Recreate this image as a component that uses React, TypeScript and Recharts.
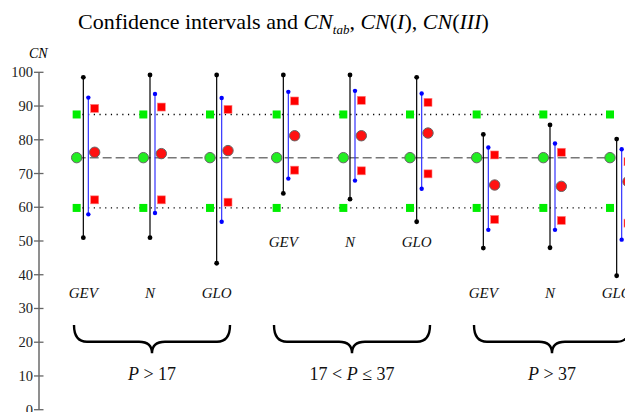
import { ComposedChart, Line, Scatter, XAxis, YAxis, ReferenceArea } from "recharts";

// one column per fitted distribution, three regimes of P
const distributions = ["GEV", "N", "GLO", "GEV", "N", "GLO", "GEV", "N", "GLO"];
const labelLevel = [34.5, 34.5, 34.5, 49.8, 49.8, 49.8, 34.5, 34.5, 34.5];

// tabulated CN and the CN(I) / CN(III) conversions
const cnTab = [74.7, 74.7, 74.7, 74.7, 74.7, 74.7, 74.7, 74.7, 74.7];
const cnI = [59.8, 59.8, 59.8, 59.8, 59.8, 59.8, 59.8, 59.8, 59.8];
const cnIII = [87.5, 87.5, 87.5, 87.5, 87.5, 87.5, 87.5, 87.5, 87.5];

// black interval (outer) and blue interval (inner)
const outerLow = [51.0, 51.0, 43.4, 64.1, 62.4, 55.7, 47.9, 48.0, 39.7];
const outerHigh = [98.5, 99.2, 99.2, 99.2, 99.2, 98.5, 81.6, 84.4, 80.2];
const innerLow = [57.9, 58.3, 55.7, 68.5, 67.9, 65.5, 53.3, 53.3, 50.4];
const innerHigh = [92.5, 93.6, 92.4, 94.2, 94.5, 93.7, 77.7, 78.9, 77.2];

// red estimates: median + I / III
const estMid = [76.3, 75.9, 76.8, 81.2, 81.2, 82.0, 66.6, 66.2, 67.6];
const estLow = [62.2, 62.2, 61.5, 71.0, 70.8, 69.9, 56.4, 56.1, 55.3];
const estHigh = [89.3, 89.7, 89.0, 91.5, 91.7, 91.1, 75.5, 76.3, 73.5];

const braceCenter = [1.13, 4.13, 7.13];
const braceLabel = [
  ["", "P", " > 17"],
  ["17 < ", "P", " ≤ 37"],
  ["", "P", " > 37"],
];
const yTicks = [0, 10, 20, 30, 40, 50, 60, 70, 80, 90, 100];

const SERIF = "'Liberation Serif', 'DejaVu Serif', serif";
const OUTER_DX = 0.1;
const INNER_DX = 0.175;
const EST_DX = 0.27;
const BRACE_HALF = 1.17;

const pts = (vals: number[], dx = 0) => vals.map((y, i) => ({ x: i + dx, y }));
const first = 0;
const last = distributions.length - 1;

const GreenSquare = (p: any) => (
  <rect x={p.cx - 4} y={p.cy - 4} width={8} height={8} fill="#00ee00" />
);
const RedSquare = (p: any) => (
  <rect x={p.cx - 4} y={p.cy - 4} width={8} height={8} fill="#ff0000" stroke="#ff8080" strokeWidth={0.6} />
);
const GreenDot = (p: any) => (
  <circle cx={p.cx} cy={p.cy} r={5.2} fill="#22ee22" stroke="#666666" strokeWidth={1} />
);
const RedDot = (p: any) => (
  <circle cx={p.cx} cy={p.cy} r={5.2} fill="#ff1111" stroke="#666666" strokeWidth={1} />
);
const DistLabel = (p: any) => (
  <text x={p.cx} y={p.cy} textAnchor="middle" dominantBaseline="central" fontFamily={SERIF}
    fontStyle="italic" fontSize={15} fill="#111">
    {p.payload.name}
  </text>
);
const BraceText = (p: any) => {
  const [a, b, c] = p.payload.parts;
  return (
    <text x={p.cx} y={p.cy} textAnchor="middle" dominantBaseline="central" fontFamily={SERIF}
      fontSize={18} fill="#111">
      <tspan>{a}</tspan>
      <tspan fontStyle="italic">{b}</tspan>
      <tspan>{c}</tspan>
    </text>
  );
};

function Brace(props: any) {
  const { x, y, width, height } = props;
  const xm = x + width / 2;
  const yh = y + height * 0.59;
  const yb = y + height;
  const r = 13;
  const d = `M${x},${y} Q${x},${yh} ${x + r},${yh} L${xm - r},${yh} Q${xm},${yh} ${xm},${yb} ` +
    `Q${xm},${yh} ${xm + r},${yh} L${x + width - r},${yh} Q${x + width},${yh} ${x + width},${y}`;
  return <path d={d} fill="none" stroke="#000" strokeWidth={2.4} />;
}

function YTick(props: any) {
  const { x, y, payload } = props;
  return (
    <g>
      <line x1={x - 5} x2={x + 4.5} y1={y} y2={y} stroke="#666" strokeWidth={1.3} />
      <text x={x - 6} y={y} textAnchor="end" dominantBaseline="central" fontFamily={SERIF}
        fontSize={14.5} fill="#222">
        {payload.value}
      </text>
    </g>
  );
}

export default function App() {
  return (
    <div style={{ position: "fixed", left: 0, top: 0, width: 625, height: 412, overflow: "hidden", background: "#fff" }}>
      <div style={{ position: "absolute", left: 78, top: 11, fontFamily: SERIF, fontSize: 22, lineHeight: "22px", whiteSpace: "nowrap" }}>
        Confidence intervals and <i>CN</i><sub style={{ fontSize: 13, fontStyle: "italic" }}>tab</sub>, <i>CN</i>(<i>I</i>), <i>CN</i>(<i>III</i>)
      </div>
      <div style={{ position: "absolute", left: 29, top: 46, fontFamily: SERIF, fontSize: 14, fontStyle: "italic" }}>
        CN
      </div>
      <ComposedChart width={706} height={412} margin={{ top: 72.3, right: 0, bottom: 2.3, left: 0 }}>
        <XAxis type="number" dataKey="x" domain={[-0.565, 9.44]} hide allowDataOverflow />
        <YAxis type="number" dataKey="y" domain={[0, 100]} ticks={yTicks} interval={0} width={39}
          tickSize={0} tickMargin={0} tickLine={false} tick={<YTick />}
          axisLine={{ stroke: "#6a6a6a", strokeWidth: 1.5 }} />

        <Line data={[{ x: first, y: cnIII[first] }, { x: last, y: cnIII[last] }]} dataKey="y"
          stroke="#000" strokeWidth={1.3} strokeDasharray="1.2 4.5" dot={false} isAnimationActive={false} />
        <Line data={[{ x: first, y: cnI[first] }, { x: last, y: cnI[last] }]} dataKey="y"
          stroke="#000" strokeWidth={1.3} strokeDasharray="1.2 4.5" dot={false} isAnimationActive={false} />
        <Line data={[{ x: first, y: cnTab[first] }, { x: last, y: cnTab[last] }]} dataKey="y"
          stroke="#777" strokeWidth={1.5} strokeDasharray="9 4" dot={false} isAnimationActive={false} />

        {distributions.map((_, i) => (
          <Line key={`o${i}`} data={[{ x: i + OUTER_DX, y: outerLow[i] }, { x: i + OUTER_DX, y: outerHigh[i] }]}
            dataKey="y" stroke="#000" strokeWidth={1.2} isAnimationActive={false}
            dot={{ r: 2.4, fill: "#000", stroke: "none" }} />
        ))}
        {distributions.map((_, i) => (
          <Line key={`n${i}`} data={[{ x: i + INNER_DX, y: innerLow[i] }, { x: i + INNER_DX, y: innerHigh[i] }]}
            dataKey="y" stroke="#3333ff" strokeWidth={1.2} isAnimationActive={false}
            dot={{ r: 2.2, fill: "#0000ff", stroke: "none" }} />
        ))}

        <Scatter data={pts(cnIII)} dataKey="y" shape={GreenSquare} isAnimationActive={false} />
        <Scatter data={pts(cnI)} dataKey="y" shape={GreenSquare} isAnimationActive={false} />
        <Scatter data={pts(cnTab)} dataKey="y" shape={GreenDot} isAnimationActive={false} />
        <Scatter data={pts(estHigh, EST_DX)} dataKey="y" shape={RedSquare} isAnimationActive={false} />
        <Scatter data={pts(estLow, EST_DX)} dataKey="y" shape={RedSquare} isAnimationActive={false} />
        <Scatter data={pts(estMid, EST_DX)} dataKey="y" shape={RedDot} isAnimationActive={false} />

        <Scatter data={distributions.map((name, i) => ({ x: i + OUTER_DX, y: labelLevel[i], name }))}
          dataKey="y" shape={DistLabel} isAnimationActive={false} />

        {braceCenter.map((c, i) => (
          <ReferenceArea key={`b${i}`} x1={c - BRACE_HALF} x2={c + BRACE_HALF} y1={16.7} y2={25.1}
            shape={<Brace />} />
        ))}
        <Scatter data={braceCenter.map((c, i) => ({ x: c, y: 10.6, parts: braceLabel[i] }))}
          dataKey="y" shape={BraceText} isAnimationActive={false} />
      </ComposedChart>
    </div>
  );
}
